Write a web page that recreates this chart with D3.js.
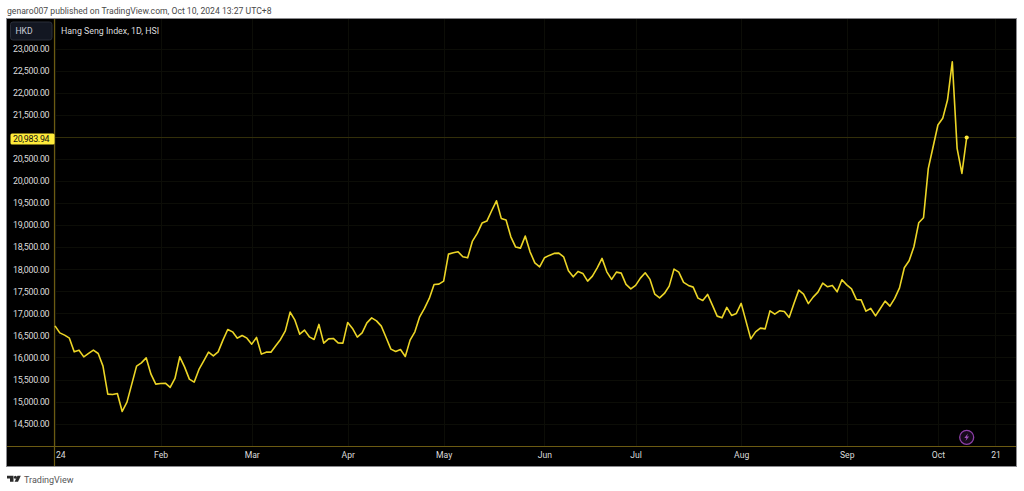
<!DOCTYPE html>
<html><head><meta charset="utf-8">
<script src="https://cdn.jsdelivr.net/npm/d3@7/dist/d3.min.js"></script>
<style>
html,body{margin:0;padding:0;background:#fff;overflow:hidden}
svg{display:block}
text{font-family:Roboto,sans-serif}
</style></head><body>
<svg id="c" width="1024" height="491"></svg>
<script>
const closes = [16717,16558,16506,16438,16128,16166,16014,16091,16166,16091,15804,15169,15162,15185,14777,14988,15396,15804,15879,15992,15622,15396,15411,15418,15321,15525,16014,15788,15509,15441,15729,15924,16121,16037,16128,16393,16635,16581,16438,16499,16438,16302,16454,16076,16121,16121,16264,16409,16604,17028,16846,16529,16620,16468,16409,16749,16325,16422,16431,16332,16325,16794,16658,16461,16558,16785,16898,16830,16710,16454,16189,16137,16182,16023,16393,16581,16921,17111,17338,17655,17662,17730,18342,18372,18394,18281,18258,18637,18811,19045,19090,19324,19550,19151,19113,18734,18501,18478,18750,18394,18145,18054,18258,18313,18358,18365,18281,17964,17828,17950,17905,17730,17843,18032,18245,17941,17769,17934,17911,17655,17556,17633,17798,17918,17769,17435,17352,17451,17617,18002,17934,17701,17633,17594,17345,17293,17429,17186,16937,16898,17134,16953,16998,17225,16824,16422,16581,16665,16649,17057,16982,17057,17043,16907,17225,17526,17435,17220,17367,17481,17685,17601,17633,17488,17760,17646,17556,17315,17306,17050,17111,16944,17111,17277,17164,17338,17578,18032,18190,18508,19051,19165,20284,20774,21266,21418,21832,22701,20738,20171,20983.94];
const priceTicks = [23000,22500,22000,21500,21000,20500,20000,19500,19000,18500,18000,17500,17000,16500,16000,15500,15000,14500];
const monthLabels = ["24","Feb","Mar","Apr","May","Jun","Jul","Aug","Sep","Oct","21"];
const monthIndex = [0,22,41,61,81,102,121,143,165,184,196];
const lastPrice = 20983.94;

const L=54.5,R=1016,T=19,B=446.5,FB=466,FL=7;
const svg=d3.select("#c");
const x=d3.scaleLinear().domain([0,190]).range([55,966.7]);
const y=d3.scaleLinear().domain([14500,23000]).range([423.7,48.5]);
const gold="#6b5a12";
const FONT="Roboto,sans-serif", FS=8.9, LS=-0.3;

svg.append("text").attr("x",7).attr("y",14).attr("font-size",8.65).attr("fill","#4a4a4a")
  .text("genaro007 published on TradingView.com, Oct 10, 2024 13:27 UTC+8");
svg.append("rect").attr("x",FL).attr("y",T).attr("width",R-FL).attr("height",FB-T).attr("fill","#000");
svg.append("rect").attr("x",FL-.5).attr("y",T-.5).attr("width",R-FL+1).attr("height",FB-T+1).attr("fill","none").attr("stroke","#8a8a8e").attr("stroke-width",1);

// grid
const grid=svg.append("g").attr("stroke","#0c0d07").attr("stroke-width",1);
grid.selectAll(".h").data(priceTicks).join("line").attr("x1",L).attr("x2",R)
  .attr("y1",d=>Math.round(y(d))+.5).attr("y2",d=>Math.round(y(d))+.5);
grid.selectAll(".v").data(monthIndex).join("line").attr("y1",T).attr("y2",B)
  .attr("x1",d=>Math.round(x(d))+.5).attr("x2",d=>Math.round(x(d))+.5);

// axes
const yAxis=d3.axisLeft(y).tickValues(priceTicks.filter(d=>d!==21000)).tickSize(0).tickPadding(0)
  .tickFormat(d=>d3.format(",.2f")(d));
const gy=svg.append("g").attr("transform","translate(49.3,0)").call(yAxis);
gy.select(".domain").remove();
gy.selectAll("text").attr("font-size",FS).attr("letter-spacing",LS).attr("fill","#dcdcdc").style("font-family",FONT);

const xAxis=d3.axisBottom(x).tickValues(monthIndex).tickSize(0).tickPadding(0)
  .tickFormat((d,i)=>monthLabels[i]);
const gx=svg.append("g").attr("transform","translate(0,452)").call(xAxis);
gx.select(".domain").remove();
gx.selectAll("text").attr("font-size",8.6).attr("fill","#dcdcdc").style("font-family",FONT);
gx.selectAll("text").filter((d,i)=>i===0).attr("dx",5.3);

// frame lines of the plot
svg.append("line").attr("x1",L).attr("x2",L).attr("y1",T).attr("y2",FB).attr("stroke",gold).attr("stroke-width",1.2);
svg.append("line").attr("x1",FL).attr("x2",R).attr("y1",B).attr("y2",B).attr("stroke",gold).attr("stroke-width",1.2);

// last price line
svg.append("line").attr("x1",L).attr("x2",R).attr("y1",y(lastPrice)).attr("y2",y(lastPrice))
  .attr("stroke","#5c5410").attr("stroke-width",1).attr("stroke-dasharray","1 1");

// series
const line=d3.line().x((d,i)=>x(i)).y(d=>y(d));
svg.append("path").datum(closes).attr("d",line).attr("fill","none").attr("stroke","#ecd526")
  .attr("stroke-width",1.6).attr("stroke-linejoin","round");
svg.append("circle").attr("cx",x(closes.length-1)).attr("cy",y(lastPrice)).attr("r",2.1).attr("fill","#ffe93a");

// price label
svg.append("rect").attr("x",10.5).attr("y",y(lastPrice)-4).attr("width",44).attr("height",11).attr("rx",1.5).attr("fill","#ffeb3b");
svg.append("text").attr("x",49.3).attr("y",y(lastPrice)+4.5).attr("text-anchor","end").attr("font-size",FS).attr("letter-spacing",LS).attr("fill","#111")
  .text(d3.format(",.2f")(lastPrice));

// currency box
svg.append("rect").attr("x",10.5).attr("y",22).attr("width",41.5).attr("height",18).attr("rx",2.5).attr("fill","#131722").attr("stroke","#2a2e39");
svg.append("text").attr("x",24).attr("y",33.7).attr("text-anchor","middle").attr("font-size",8.6).attr("fill","#c8ccd6").text("HKD");

// title
svg.append("text").attr("x",61).attr("y",33.5).attr("font-size",8.8).attr("fill","#dcdcdc").text("Hang Seng Index, 1D, HSI");

// bolt icon
const ic=svg.append("g").attr("transform","translate(966.7,437.3)");
ic.append("circle").attr("r",7).attr("fill","#160a1c").attr("stroke","#8e3fa8").attr("stroke-width",1.3);
ic.append("path").attr("d","M1.2,-3.8 L-2.4,0.6 L-0.3,0.6 L-1.2,3.8 L2.4,-0.8 L0.3,-0.8 Z").attr("fill","#9c4fb8");

// logo
const lg=svg.append("g").attr("transform","translate(7,475.7)").attr("fill","#2a2a2a");
lg.append("path").attr("d","M0,0 H6.5 V6 H3 V2.8 H0 Z");
lg.append("circle").attr("cx",8.4).attr("cy",1.5).attr("r",1.5);
lg.append("path").attr("d","M10.4,0 H13.8 L11,6 H7.6 Z");
svg.append("text").attr("x",24).attr("y",482.6).attr("font-size",9).attr("fill","#555").text("TradingView");
</script>
</body></html>
